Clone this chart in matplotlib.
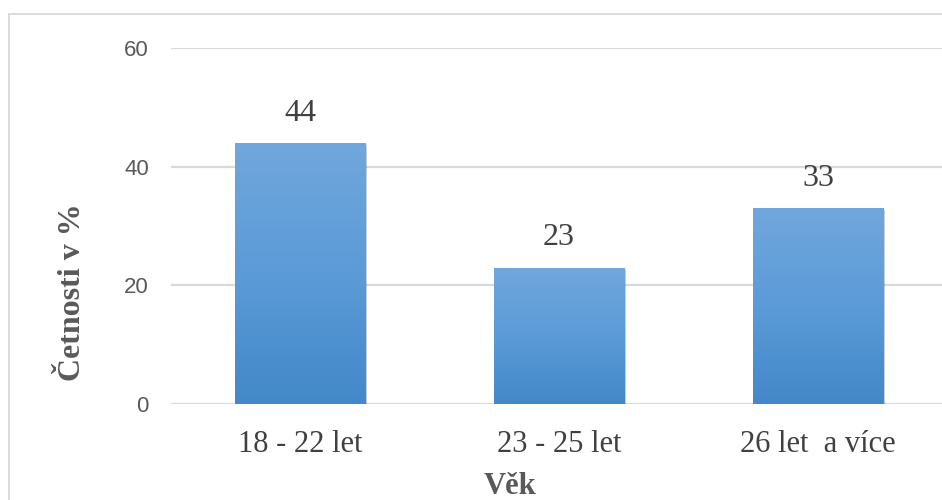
import numpy as np
import matplotlib
matplotlib.use("Agg")
import matplotlib.pyplot as plt
from matplotlib.patches import Rectangle
from matplotlib import patheffects as pe
from matplotlib.colors import LinearSegmentedColormap

categories = ["18 - 22 let", "23 - 25 let", "26 let  a více"]
values = [44, 23, 33]
y_ticks = [0, 20, 40, 60]

W, H = 942, 500
fig = plt.figure(figsize=(W / 100, H / 100), dpi=100)

# outer chart border (cropped on right/bottom)
fig.patches.append(Rectangle((8.5 / W, -0.1), 1.2, (H - 13.5) / H + 0.1,
                             transform=fig.transFigure, fill=False,
                             edgecolor="#d9d9d9", linewidth=1.3))

ax = fig.add_axes([171 / W, (H - 404) / H, (W - 171) / W, 356 / H])
x = np.arange(len(categories))

for t in y_ticks:
    ax.axhline(t, color="#d9d9d9", linewidth=1.6, zorder=0)

cmap = LinearSegmentedColormap.from_list("bar", ["#4388c8", "#5b9bd8", "#71a7dc"])
grad = np.linspace(0, 1, 256).reshape(-1, 1)

bars = ax.bar(x, values, width=0.502, color="#5b9bd5", zorder=2)
for b, v in zip(bars, values):
    b.set_path_effects([pe.SimplePatchShadow(offset=(1.5, -1.5), shadow_rgbFace="#000000", alpha=0.2),
                        pe.Normal()])
    x0, w = b.get_x(), b.get_width()
    im = ax.imshow(grad, cmap=cmap, aspect="auto", origin="lower",
                   extent=[x0, x0 + w, 0, v], zorder=3)
    im.set_clip_path(b)
    ax.text(x0 + w / 2, v + 2.6, str(v), ha="center", va="bottom",
            fontsize=23, family="Liberation Serif", color="#404040")

ax.set_aspect("auto")
ax.set_xlim(-0.498, 2.479)
ax.set_ylim(0, 60)

ax.set_xticks(x)
ax.set_xticklabels(categories, fontsize=22, family="Liberation Serif", color="#404040")
ax.set_yticks(y_ticks)
ax.set_yticklabels([str(t) for t in y_ticks], fontsize=16, family="Liberation Sans", color="#595959")
ax.tick_params(axis="both", length=0)
ax.tick_params(axis="y", pad=16)
ax.tick_params(axis="x", pad=19)
for s in ax.spines.values():
    s.set_visible(False)

fig.text(72 / W, 1 - 292 / H, "Četnosti v %", rotation=90, ha="center", va="center",
         fontsize=23, fontweight="bold", family="Liberation Serif", color="#595959")
fig.text(510 / W, 1 - 486 / H, "Věk", ha="center", va="center",
         fontsize=22, fontweight="bold", family="Liberation Serif", color="#595959")

fig.savefig("out.png", dpi=100)
